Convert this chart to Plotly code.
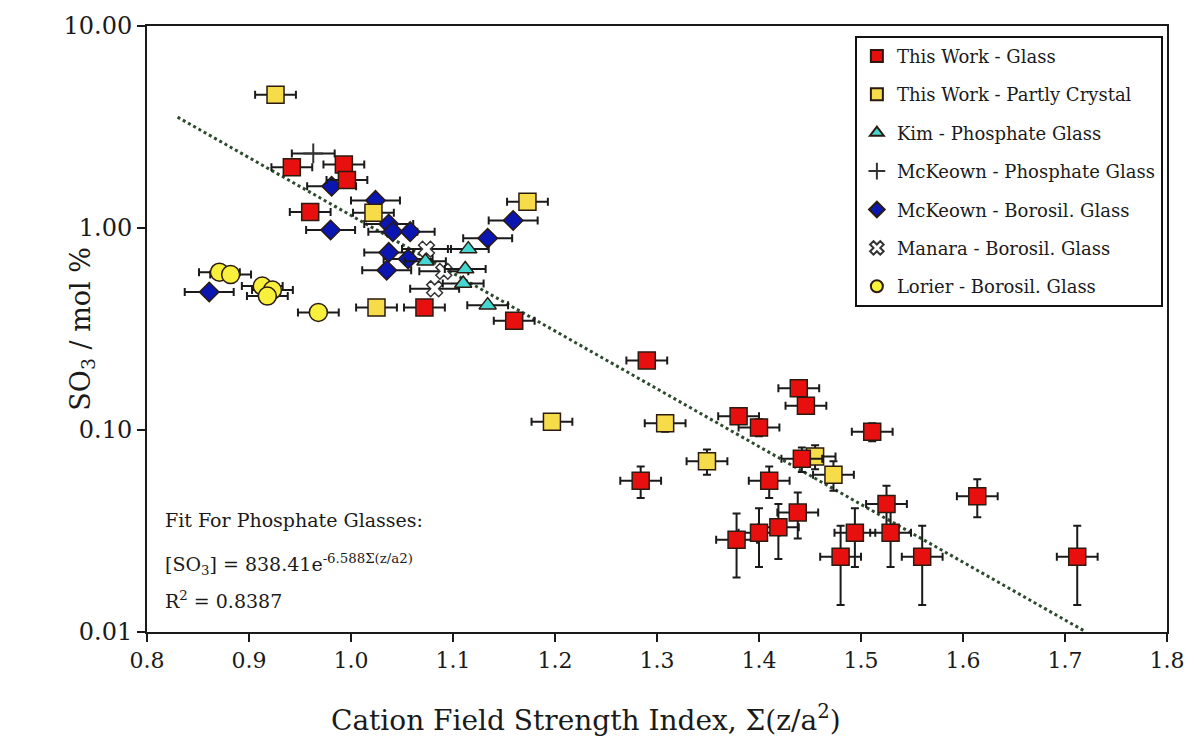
import math
import plotly.graph_objects as go

# --- data -------------------------------------------------------------------
# This Work - Glass
glass_x = [0.942, 0.993, 0.996, 0.960, 1.072, 1.160, 1.290, 1.284, 1.380, 1.400,
           1.439, 1.446, 1.511, 1.442, 1.410, 1.438, 1.419, 1.400, 1.378, 1.494,
           1.529, 1.525, 1.480, 1.560, 1.614, 1.712]
glass_y = [2.00, 2.06, 1.73, 1.20, 0.404, 0.347, 0.221, 0.056, 0.117, 0.103,
           0.161, 0.132, 0.098, 0.072, 0.056, 0.039, 0.033, 0.031, 0.0286, 0.031,
           0.031, 0.043, 0.0236, 0.0236, 0.047, 0.0236]

# This Work - Partly Crystal
crystal_x = [0.926, 1.022, 1.173, 1.025, 1.197, 1.308, 1.349, 1.455, 1.473]
crystal_y = [4.57, 1.19, 1.35, 0.404, 0.110, 0.108, 0.070, 0.074, 0.060]

# Kim - Phosphate Glass
kim_x = [1.115, 1.073, 1.112, 1.110, 1.134]
kim_y = [0.786, 0.684, 0.627, 0.531, 0.415]

# McKeown - Phosphate Glass
mck_p_x = [0.963]
mck_p_y = [2.34]

# McKeown - Borosil. Glass
mck_b_x = [0.981, 1.024, 0.980, 1.037, 1.041, 1.058, 1.159, 1.134, 1.037, 1.056,
           1.035, 0.861]
mck_b_y = [1.61, 1.37, 0.978, 1.046, 0.959, 0.959, 1.09, 0.89, 0.757, 0.702,
           0.618, 0.482]

# Manara - Borosil. Glass
manara_x = [1.074, 1.091, 1.082]
manara_y = [0.786, 0.610, 0.500]

# Lorier - Borosil. Glass
lorier_x = [0.871, 0.882, 0.913, 0.923, 0.918, 0.968]
lorier_y = [0.604, 0.588, 0.516, 0.493, 0.460, 0.382]

# uncertainties (absolute)
this_work_xerr = 0.02
this_work_yerr = 0.01
kim_xerr = 0.02
mck_p_xerr = 0.021
mck_b_xerr = 0.024
manara_xerr = 0.024
lorier_xerr = 0.02

# exponential fit for phosphate glasses: [SO3] = A * exp(B * x)
fit_A = 838.41
fit_B = -6.588
fit_r2 = 0.8387
fit_x_range = [0.83, 1.72]

x_ticks = [0.8, 0.9, 1.0, 1.1, 1.2, 1.3, 1.4, 1.5, 1.6, 1.7, 1.8]
y_ticks = [0.01, 0.1, 1, 10]
y_tick_text = ["0.01", "0.10", "1.00", "10.00"]

# --- styling ----------------------------------------------------------------
SERIF = "DejaVu Serif"
INK = "#1a1a1a"
EDGE = dict(color="#2a1a10", width=1.5)


def err(v):
    return dict(type="constant", value=v, color=INK, thickness=2, width=4)


fig = go.Figure()

fit_y = [fit_A * math.exp(fit_B * x) for x in fit_x_range]
fig.add_trace(go.Scatter(
    x=fit_x_range, y=fit_y, mode="lines", showlegend=False,
    line=dict(color="#2e4a2e", width=3, dash="dot"), hoverinfo="skip"))

series = [
    dict(name="This Work - Glass", x=glass_x, y=glass_y,
         marker=dict(symbol="square", size=17, color="#e8100e", line=EDGE),
         error_x=err(this_work_xerr), error_y=err(this_work_yerr)),
    dict(name="This Work - Partly Crystal", x=crystal_x, y=crystal_y,
         marker=dict(symbol="square", size=17, color="#f6dc48", line=EDGE),
         error_x=err(this_work_xerr), error_y=err(this_work_yerr)),
    dict(name="Kim - Phosphate Glass", x=kim_x, y=kim_y,
         marker=dict(symbol="triangle-up", size=15, color="#45d6d2", line=EDGE),
         error_x=err(kim_xerr)),
    dict(name="McKeown - Phosphate Glass", x=mck_p_x, y=mck_p_y,
         marker=dict(symbol="cross-thin", size=14, color=INK,
                     line=dict(color="#333333", width=2)),
         error_x=err(mck_p_xerr)),
    dict(name="McKeown - Borosil. Glass", x=mck_b_x, y=mck_b_y,
         marker=dict(symbol="diamond", size=15, color="#0b16b0", line=EDGE),
         error_x=err(mck_b_xerr)),
    dict(name="Manara - Borosil. Glass", x=manara_x, y=manara_y,
         marker=dict(symbol="x", size=14, color="#ffffff",
                     line=dict(color="#333333", width=1.5)),
         error_x=err(manara_xerr)),
    dict(name="Lorier - Borosil. Glass", x=lorier_x, y=lorier_y,
         marker=dict(symbol="circle", size=18, color="#f8f03a", line=EDGE),
         error_x=err(lorier_xerr)),
]

# draw in reverse so the first series sits on top, keep legend order
for i, s in reversed(list(enumerate(series))):
    fig.add_trace(go.Scatter(
        x=s["x"], y=s["y"], mode="markers", name=s["name"],
        marker=s["marker"], error_x=s.get("error_x"), error_y=s.get("error_y"),
        legendgroup=f"g{i}", legendrank=i + 1))

ann_font = dict(family=SERIF, size=19, color=INK)

fig.update_layout(
    width=1197, height=742,
    margin=dict(l=147, r=25, t=23, b=110),
    paper_bgcolor="white", plot_bgcolor="white",
    font=dict(family=SERIF, color=INK, size=20),
    showlegend=True,
    legend=dict(
        x=0.694, y=0.984, xanchor="left", yanchor="top",
        bordercolor="#111111", borderwidth=2, bgcolor="white",
        font=dict(family=SERIF, size=18, color=INK),
        tracegroupgap=12, itemsizing="constant", traceorder="grouped",
        itemwidth=30,
    ),
    xaxis=dict(
        range=[0.8, 1.8], tickvals=x_ticks, ticktext=[f"{v:.1f}" for v in x_ticks],
        ticks="outside", ticklen=8, tickwidth=2, tickcolor=INK,
        showline=True, linewidth=2, linecolor=INK, mirror=True,
        showgrid=False, zeroline=False,
        tickfont=dict(family=SERIF, size=22),
    ),
    yaxis=dict(
        type="log", range=[-2, 1], tickvals=y_ticks, ticktext=y_tick_text,
        ticks="outside", ticklen=8, tickwidth=2, tickcolor=INK,
        showline=True, linewidth=2, linecolor=INK, mirror=True,
        showgrid=False, zeroline=False,
        tickfont=dict(family=SERIF, size=24),
    ),
    annotations=[
        # axis titles
        dict(x=0.43, y=-0.142, xref="paper", yref="paper", xanchor="center",
             yanchor="middle", showarrow=False,
             text="Cation Field Strength Index, Σ(z/a<sup>2</sup>)",
             font=dict(family=SERIF, size=28, color=INK)),
        dict(x=-0.064, y=0.50, xref="paper", yref="paper", xanchor="center",
             yanchor="middle", showarrow=False, textangle=-90,
             text="SO<sub>3</sub> / mol %",
             font=dict(family=SERIF, size=27, color=INK)),
        # fit description
        dict(x=0.016, y=0.184, xref="paper", yref="paper", xanchor="left",
             yanchor="middle", showarrow=False, align="left",
             text="Fit For Phosphate Glasses:", font=ann_font),
        dict(x=0.016, y=0.112, xref="paper", yref="paper", xanchor="left",
             yanchor="middle", showarrow=False, align="left",
             text=f"[SO<sub>3</sub>] = {fit_A:.2f}e<sup>{fit_B:.3f}Σ(z/a2)</sup>",
             font=ann_font),
        dict(x=0.016, y=0.053, xref="paper", yref="paper", xanchor="left",
             yanchor="middle", showarrow=False, align="left",
             text=f"R<sup>2</sup> = {fit_r2:.4f}", font=ann_font),
    ],
)

fig.write_html("out.html")
